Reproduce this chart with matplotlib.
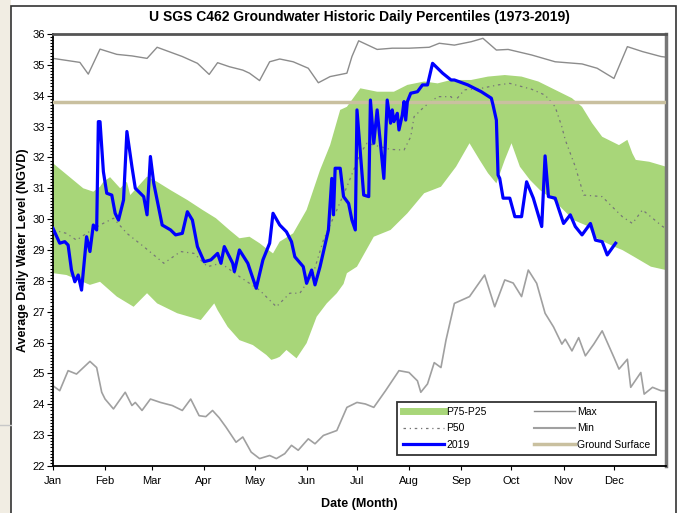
import matplotlib
matplotlib.use("Agg")
import matplotlib.pyplot as plt
from matplotlib.patches import Rectangle
from matplotlib.lines import Line2D
from matplotlib.ticker import MultipleLocator

plt.rcParams['font.family'] = ['Liberation Sans Narrow', 'Liberation Sans', 'DejaVu Sans']

# ---- data (day of year, water level ft NGVD) ----
title = "U SGS C462 Groundwater Historic Daily Percentiles (1973-2019)"
month_labels = ["Jan", "Feb", "Mar", "Apr", "May", "Jun", "Jul", "Aug", "Sep", "Oct", "Nov", "Dec"]
month_start_days = [1, 32, 60, 91, 121, 152, 182, 213, 244, 274, 305, 335]
ground_surface = 33.8

p75_day = [1, 7, 13, 19, 25, 29, 31, 35, 41, 45, 47, 57, 63, 71, 81, 90, 98, 106, 112, 118, 124,
           128, 132, 136, 144, 152, 160, 166, 172, 176, 184, 194, 204, 212, 222, 230, 238, 250,
           260, 270, 280, 290, 300, 310, 316, 322, 328, 338, 343, 346, 348, 356, 366]
p75_val = [31.81, 31.54, 31.27, 31.00, 30.89, 31.05, 31.21, 31.36, 31.00, 31.21, 30.78, 31.38,
           31.21, 30.94, 30.62, 30.30, 30.03, 29.65, 29.38, 29.43, 29.22, 29.05, 28.89, 29.27,
           29.54, 30.30, 31.59, 32.40, 33.54, 33.64, 34.24, 34.13, 34.13, 34.35, 34.46, 34.40,
           34.51, 34.51, 34.62, 34.67, 34.62, 34.46, 34.19, 33.92, 33.64, 33.11, 32.67, 32.40,
           32.57, 32.13, 31.92, 31.86, 31.70]

p25_day = [1, 9, 23, 29, 39, 49, 57, 63, 75, 89, 97, 99, 105, 112, 120, 128, 131, 134, 136, 140,
           146, 152, 158, 164, 170, 174, 176, 182, 192, 202, 212, 222, 232, 241, 249, 255, 260,
           265, 270, 274, 279, 285, 291, 299, 311, 320, 323, 335, 340, 347, 357, 366]
p25_val = [28.25, 28.19, 27.87, 27.97, 27.49, 27.16, 27.60, 27.27, 26.95, 26.73, 27.27, 27.05,
           26.51, 26.08, 25.92, 25.60, 25.44, 25.49, 25.54, 25.76, 25.49, 25.98, 26.84, 27.27,
           27.60, 27.90, 28.25, 28.46, 29.43, 29.65, 30.19, 30.84, 31.05, 31.70, 32.46, 31.92,
           31.49, 31.16, 31.92, 32.46, 31.70, 31.27, 30.94, 30.62, 29.97, 29.76, 29.43, 29.11,
           29.00, 28.78, 28.46, 28.35]

p50_day = [1, 9, 15, 21, 29, 37, 45, 55, 67, 77, 85, 93, 101, 112, 124, 134, 142, 148, 156, 162,
           170, 176, 184, 188, 202, 210, 214, 216, 222, 230, 238, 240, 246, 256, 266, 273, 286,
           294, 300, 304, 306, 312, 317, 328, 334, 340, 346, 352, 358, 364, 366]
p50_val = [29.65, 29.54, 29.32, 29.54, 29.81, 30.03, 29.54, 29.11, 28.57, 28.95, 28.89, 28.46,
           28.57, 28.14, 27.70, 27.16, 27.60, 27.60, 28.25, 29.32, 30.30, 31.05, 32.13, 32.46,
           32.26, 32.24, 32.67, 33.32, 33.64, 33.97, 33.97, 33.81, 34.19, 34.24, 34.35, 34.40,
           34.21, 34.02, 33.64, 32.99, 32.57, 31.70, 30.78, 30.73, 30.40, 30.08, 29.86, 30.30,
           30.03, 29.76, 29.70]

max_day = [1, 17, 22, 29, 39, 48, 57, 63, 78, 87, 94, 99, 106, 114, 118, 124, 130, 136, 144, 153,
           159, 166, 176, 179, 183, 194, 203, 213, 225, 231, 240, 250, 257, 265, 272, 286, 300,
           316, 325, 335, 343, 352, 363, 366]
max_val = [35.21, 35.08, 34.70, 35.51, 35.34, 35.29, 35.21, 35.57, 35.27, 35.05, 34.69, 35.07,
           34.94, 34.83, 34.73, 34.49, 35.10, 35.19, 35.10, 34.89, 34.42, 34.62, 34.73, 35.27,
           35.78, 35.50, 35.54, 35.54, 35.57, 35.70, 35.64, 35.75, 35.86, 35.48, 35.50, 35.32,
           35.10, 35.03, 34.89, 34.56, 35.59, 35.43, 35.27, 35.25]

min_day = [1, 5, 10, 15, 23, 27, 30, 32, 37, 44, 48, 50, 54, 59, 65, 72, 78, 83, 88, 92, 96, 100,
           104, 110, 114, 119, 124, 130, 134, 139, 143, 147, 153, 157, 162, 170, 176, 182, 187,
           192, 199, 207, 213, 218, 220, 224, 228, 232, 235, 240, 249, 258, 264, 270, 275, 280,
           284, 289, 294, 299, 304, 306, 310, 314, 318, 323, 328, 335, 338, 343, 345, 351, 353,
           358, 363, 366]
min_val = [24.60, 24.44, 25.09, 24.98, 25.39, 25.19, 24.39, 24.17, 23.85, 24.39, 23.96, 24.06,
           23.80, 24.17, 24.06, 23.96, 23.80, 24.17, 23.63, 23.60, 23.80, 23.56, 23.26, 22.77,
           22.94, 22.45, 22.24, 22.34, 22.24, 22.40, 22.67, 22.51, 22.88, 22.72, 22.99, 23.15,
           23.90, 24.06, 24.01, 23.90, 24.44, 25.09, 25.03, 24.76, 24.39, 24.66, 25.35, 25.19,
           26.08, 27.27, 27.49, 28.19, 27.16, 28.03, 27.93, 27.49, 28.35, 27.92, 26.95, 26.51,
           25.95, 26.11, 25.73, 26.16, 25.57, 25.95, 26.38, 25.52, 25.14, 25.46, 24.55, 25.03,
           24.33, 24.55, 24.44, 24.44]

y2019_day = [1, 5, 8, 10, 12, 14, 16, 18, 21, 23, 25, 27, 28, 29, 31, 33, 36, 38, 40, 43, 45, 48,
             50, 55, 57, 59, 61, 63, 66, 71, 74, 78, 81, 84, 87, 91, 95, 99, 101, 103, 108, 109,
             112, 117, 122, 126, 130, 132, 136, 140, 143, 145, 150, 152, 155, 157, 160, 165, 167,
             168, 169, 172, 174, 177, 179, 181, 182, 186, 189, 190, 192, 194, 198, 200, 202, 203,
             204, 206, 207, 209, 210, 211, 212, 214, 218, 221, 224, 227, 233, 238, 240, 248, 256,
             262, 263, 265, 266, 267, 269, 273, 276, 280, 283, 287, 292, 294, 296, 300, 305, 309,
             312, 316, 321, 324, 328, 331, 336]
y2019_val = [29.70, 29.22, 29.27, 29.16, 28.35, 27.97, 28.19, 27.70, 29.43, 28.95, 29.81, 29.65,
             33.16, 33.16, 31.54, 30.84, 30.78, 30.19, 29.97, 30.62, 32.84, 31.70, 31.00, 30.73,
             30.14, 32.03, 31.16, 30.62, 29.81, 29.65, 29.49, 29.54, 30.24, 29.97, 29.11, 28.62,
             28.68, 28.89, 28.57, 29.11, 28.57, 28.30, 29.00, 28.57, 27.76, 28.68, 29.22, 30.19,
             29.81, 29.59, 29.27, 28.78, 28.46, 27.92, 28.35, 27.87, 28.46, 29.65, 31.32, 30.14,
             31.65, 31.65, 30.73, 30.51, 29.97, 29.65, 33.54, 30.78, 30.73, 33.86, 32.46, 33.54,
             31.32, 33.86, 33.11, 33.54, 33.16, 33.43, 32.89, 33.38, 33.81, 33.21, 33.81, 34.08,
             34.13, 34.35, 34.35, 35.05, 34.73, 34.51, 34.51, 34.35, 34.13, 33.92, 33.70, 33.21,
             31.43, 31.32, 30.68, 30.68, 30.08, 30.08, 31.21, 30.68, 29.76, 32.05, 30.73, 30.68,
             29.86, 30.14, 29.76, 29.49, 29.86, 29.32, 29.27, 28.84, 29.22]

# ---- figure ----
fig = plt.figure(figsize=(6.82, 5.13), dpi=100)
fig.patch.set_facecolor("white")

# slide background strip + chart frame
fig.add_artist(Rectangle((0, 0), 11 / 682, 1, transform=fig.transFigure,
                         facecolor="#f1ede3", edgecolor="none", zorder=0))
fig.add_artist(Line2D([0, 11 / 682], [1 - 425 / 513] * 2, transform=fig.transFigure,
                      color="#c8c8c8", lw=1))
fig.add_artist(Rectangle((11 / 682, -0.01), (676 - 11) / 682, 1.005 - 3 / 513,
                         transform=fig.transFigure, facecolor="none",
                         edgecolor="#333333", lw=1.2, zorder=1))

ax = fig.add_axes([53 / 682, 1 - 466 / 513, 613 / 682, 432 / 513])

band_x = list(p75_day) + list(p25_day[::-1])
band_y = list(p75_val) + list(p25_val[::-1])
ax.fill(band_x, band_y, color="#a8d679", lw=0, zorder=1)
ax.plot(max_day, max_val, color="#8c8c8c", lw=1.0, zorder=2)
ax.plot(min_day, min_val, color="#a0a0a0", lw=1.2, zorder=2)
ax.plot(p50_day, p50_val, color="#777777", lw=0.9, ls=(0, (2, 3, 1, 3)), zorder=2)
ax.axhline(ground_surface, color="#c9c09f", lw=2.5, zorder=3)
ax.plot(y2019_day, y2019_val, color="#0000ff", lw=2.3, zorder=4)

ax.set_xlim(1, 366)
ax.set_ylim(22, 36)
ax.set_xticks(month_start_days)
ax.set_xticklabels(month_labels)
ax.yaxis.set_major_locator(MultipleLocator(1))
ax.yaxis.set_minor_locator(MultipleLocator(0.1))
ax.tick_params(axis="y", which="major", direction="out", length=4, labelsize=8, pad=2)
ax.tick_params(axis="y", which="minor", direction="out", length=2.5, width=0.8)
ax.tick_params(axis="x", direction="out", length=3, labelsize=8, pad=4)

for s in ["left", "bottom"]:
    ax.spines[s].set_color("black")
    ax.spines[s].set_linewidth(1.3)
ax.spines["top"].set_color("#555555")
ax.spines["top"].set_linewidth(2)
ax.spines["right"].set_color("#777777")
ax.spines["right"].set_linewidth(2.5)

ax.set_title(title, fontsize=10, fontweight="bold", pad=9)
ax.set_ylabel("Average Daily Water Level (NGVD)", fontsize=9, fontweight="bold", labelpad=2)
ax.set_xlabel("Date (Month)", fontsize=9, fontweight="bold", labelpad=9)

handles = [
    Line2D([], [], color="#a8d679", lw=5),
    Line2D([], [], color="#777777", lw=0.9, ls=(0, (2, 3, 1, 3))),
    Line2D([], [], color="#0000ff", lw=2.3),
    Line2D([], [], color="#8c8c8c", lw=1.0),
    Line2D([], [], color="#a0a0a0", lw=1.5),
    Line2D([], [], color="#c9c09f", lw=2.5),
]
labels = ["P75-P25", "P50", "2019", "Max", "Min", "Ground Surface"]
leg = ax.legend(handles, labels, ncol=2, loc="lower right", bbox_to_anchor=(0.992, 0.014),
                fontsize=7.5, frameon=True, fancybox=False, handlelength=4,
                handletextpad=0.2, columnspacing=4.5, labelspacing=0.6, borderpad=0.5)
leg.get_frame().set_edgecolor("black")
leg.get_frame().set_linewidth(1.3)
leg.set_zorder(10)

fig.savefig("out.png", dpi=100)
